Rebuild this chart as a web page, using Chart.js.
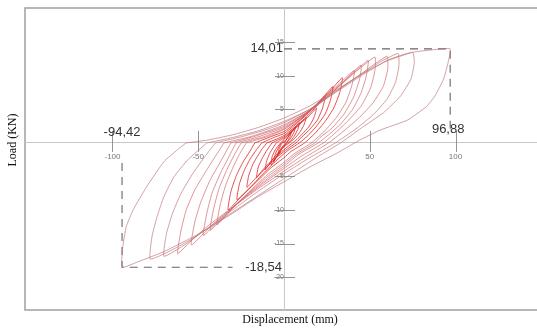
<!DOCTYPE html>
<html><head><meta charset="utf-8">
<script src="https://cdn.jsdelivr.net/npm/chart.js@4/dist/chart.umd.min.js"></script>
<style>html,body{margin:0;padding:0;background:#fff}#wrap{width:537px;height:329px;position:relative}</style>
</head><body><div id="wrap"><canvas id="c" width="537" height="329"></canvas></div>
<script>
// ---- data (displacement mm, load kN) ----
const xTicks = [-100, -50, 50, 100];
const yTicks = [15, 10, 5, -5, -10, -15, -20];
const peakPos = [96.88, 14.01];
const peakNeg = [-94.42, -18.54];
const cycleS1 = [[0,0],[2,0.7],[4.5,1.7],[3.5,0.9],[1.5,0],[-1,-0.7],[-3.5,-1.9],[-3,-1],[-1.5,-0.2],[0,0.2]];
const cycle0 = [[0,0],[3,1.1],[7,2.5],[5.5,1.4],[3,0.4],[1,0],[-2,-0.9],[-6,-2.8],[-5,-1.6],[-3,-0.6],[-1.5,0],[0,0.3]];
const cycleS2 = [[-2,0],[0,0.5],[3,1.3],[6,2.2],[9,3],[8,2],[6,1],[3.5,0.2],[2,0],[-1,-0.8],[-4,-2],[-7.5,-3.3],[-7,-2.1],[-5,-1],[-2,0]];
const cycle1 = [[-4.5,0],[-2,0.4],[0,0.7],[4,1.5],[8,2.5],[13,3.8],[11.5,2.6],[9,1.5],[6,0.6],[3,0],[0,-0.6],[-4,-1.6],[-8,-2.9],[-11,-4],[-10,-2.6],[-8,-1.4],[-6,-0.6],[-4.5,0]];
const cycle2 = [[-7,0],[-3,0.5],[0,0.9],[5,1.9],[10,3],[15,4.1],[19,5.2],[17.5,3.8],[14.5,2.4],[10.5,1.3],[7.5,0.5],[5,0],[1,-0.8],[-4,-1.9],[-9,-3.1],[-13,-4.2],[-16,-5.2],[-15,-3.6],[-12.5,-2.2],[-10,-1.1],[-7,0]];
const cycle3 = [[-10,0],[-4,0.6],[0,1.1],[6,2.3],[12,3.6],[18,5.2],[24,6.9],[22.5,5.2],[19.5,3.4],[15,2],[10.5,0.9],[7,0],[2,-0.9],[-4,-2.1],[-10,-3.6],[-16,-5.1],[-21.6,-6.6],[-20.5,-4.8],[-18,-3.1],[-15,-1.8],[-12.5,-0.8],[-10,0]];
const cycle4 = [[-13,0],[-6,0.8],[0,1.4],[7,2.8],[14,4.4],[21,6.3],[28.6,8.4],[27,6.3],[24,4.3],[19,2.5],[14,1.1],[9,0],[3,-1],[0,-1.6],[-6,-3],[-13,-4.8],[-20,-6.7],[-27.4,-8.5],[-26,-6.1],[-23,-4],[-19.5,-2.3],[-16,-1],[-13,0]];
const cycle5 = [[-17,0],[-8,0.9],[0,1.7],[8,3.2],[17,5.2],[26,7.5],[34,9.7],[32.5,7.5],[29,5.2],[24,3.2],[18,1.4],[12,0],[4,-1.3],[0,-2.2],[-8,-3.8],[-16,-5.8],[-25,-8],[-32.6,-10],[-31,-7.3],[-28,-5],[-24,-2.9],[-20,-1.3],[-17,0]];
const cycle6 = [[-22,0],[-10,0.9],[0,2],[10,3.8],[20,6],[30,8.3],[41,10.8],[39.5,8.5],[36,6],[30,3.6],[23,1.6],[16,0],[6,-1.6],[0,-2.9],[-10,-4.8],[-20,-7.2],[-30,-9.7],[-39,-12.2],[-37,-9],[-34,-6.3],[-30,-3.8],[-26,-1.7],[-22,0]];
const cycle6b = [[-25,0],[-12,0.9],[0,2.1],[11,4],[22,6.4],[34,9],[45,11.6],[44,9.4],[40.5,6.8],[35,4.3],[28,2.2],[21,0.8],[18,0],[7,-1.7],[0,-3.2],[-11,-5.3],[-22,-7.8],[-33,-10.5],[-43,-13],[-41,-9.8],[-38,-6.9],[-33.5,-4.1],[-29,-1.8],[-25,0]];
const cycle7 = [[-28,0],[-15,0.9],[0,2.3],[12,4.2],[25,6.8],[37,9.6],[49,12.3],[48,10],[45,7.5],[40,5],[33,2.8],[26,1.2],[20,0],[8,-1.8],[0,-3.5],[-12,-5.8],[-25,-8.5],[-37,-11.3],[-47,-13.8],[-45,-10.5],[-42,-7.5],[-37,-4.5],[-32,-2],[-28,0]];
const cycle7b = [[-31,0],[-18,0.9],[-5,2],[0,2.5],[13,4.5],[27,7.3],[40,10.2],[53,12.8],[53,10.8],[50.5,8.2],[45,5.5],[37,3.2],[29,1.3],[23,0],[10,-2],[0,-3.8],[-13,-6.2],[-27,-9],[-41,-12],[-54,-15.2],[-52,-11.8],[-48.5,-8.8],[-43,-5.5],[-37,-2.8],[-31,0]];
const cycle8 = [[-35,0],[-20,0.9],[-8,1.9],[0,2.7],[15,4.8],[30,7.6],[45,10.3],[60,12.9],[60.5,11],[58,8.5],[52,6],[44,3.8],[35,1.8],[26,0],[12,-2.2],[0,-4.2],[-15,-6.8],[-30,-9.6],[-45,-12.5],[-55,-14.8],[-62,-16.5],[-60,-13],[-57,-10],[-52,-7],[-45,-4],[-40,-2],[-35,0]];
const cycle8b = [[-40,0],[-25,0.9],[-10,2],[0,3],[15,5],[30,7.7],[45,10.2],[57,12.2],[66.5,13.3],[67,11.5],[65,9],[60,6.5],[52,4.2],[42,2.1],[30,0],[15,-2.2],[0,-4.6],[-15,-7.2],[-30,-10],[-45,-12.8],[-58,-15.2],[-70,-16.9],[-68.5,-13.5],[-65,-10.5],[-60,-7.5],[-53,-4.5],[-46,-2],[-40,0]];
const cycle9 = [[-45,0],[-30,0.8],[-15,1.8],[0,3.2],[15,5],[30,7.5],[45,10],[60,12.3],[75,13.5],[76,12],[74,9.5],[68,7],[58,4.5],[45,2.2],[33,0],[20,-2],[5,-4.5],[-10,-7],[-25,-9.5],[-40,-12],[-55,-14.5],[-68,-16.3],[-78,-17.3],[-77,-14],[-74,-11],[-70,-8],[-64,-5],[-56,-2.5],[-45,0]];
const cycle10 = [[-57,0],[-45,0.4],[-30,1.2],[-15,2.3],[0,3.7],[15,5.5],[30,7.8],[45,10.2],[60,12.2],[75,13.5],[88,13.9],[96.88,14.01],[95.5,11.8],[93,9.5],[88,7],[83,5.4],[72,3.4],[56,1.9],[44,0.4],[31,-1.5],[15,-3.6],[0,-5.8],[-15,-8],[-30,-10.5],[-50,-13.6],[-70,-16.2],[-85,-17.7],[-94.42,-18.54],[-94,-15.5],[-92,-12.5],[-88,-10],[-80,-6.5],[-70,-2.8],[-62,-1],[-57,0]];
const boxTop = [[0,14.01],[96.88,14.01],[96.88,2]];
const boxBottom = [[-94.42,-3],[-94.42,-18.54],[-30,-18.54]];

const cycles = [cycle10,cycle9,cycle8b,cycle8,cycle7b,cycle7,cycle6b,cycle6,cycle5,cycle4,cycle3,cycle2,cycle1,cycleS2,cycle0,cycleS1];
const toXY = a => a.map(p => ({x:p[0], y:p[1]}));
const datasets = cycles.map((c,i) => ({
  data: toXY(c), showLine:true, pointRadius:0, fill:false, tension:0.15,
  borderWidth: i < 8 ? 0.8 : 1.0,
  borderColor: i < 3 ? 'rgba(190,115,120,0.85)' : (i < 8 ? 'rgba(205,90,95,0.8)' : 'rgba(225,35,35,0.8)')
}));
[boxTop, boxBottom].forEach(b => datasets.push({
  data: toXY(b), showLine:true, pointRadius:0, fill:false, tension:0,
  borderWidth:1.1, borderColor:'#666', borderDash:[8,6]
}));

const fmt = v => v.toFixed(2).replace('.', ',');
const zeroFit = s => { s.paddingTop = 0; s.paddingBottom = 0; s.paddingLeft = 0; s.paddingRight = 0; };
const extras = {
  id:'extras',
  beforeDraw(chart){
    const {ctx, chartArea:a} = chart;
    ctx.save();
    ctx.strokeStyle = '#a0a0a0'; ctx.lineWidth = 1.5;
    ctx.beginPath();
    ctx.moveTo(a.right+2, a.top); ctx.lineTo(a.left, a.top); ctx.lineTo(a.left, a.bottom); ctx.lineTo(a.right+2, a.bottom);
    ctx.stroke();
    ctx.restore();
  },
  afterDraw(chart){
    const {ctx, chartArea:a} = chart;
    const xs = chart.scales.x, ys = chart.scales.y;
    const x0 = xs.getPixelForValue(0), y0 = ys.getPixelForValue(0);
    ctx.save();
    ctx.strokeStyle = '#888'; ctx.lineWidth = 0.9;
    xTicks.forEach(v => { const px = Math.round(xs.getPixelForValue(v))+0.5; ctx.beginPath(); ctx.moveTo(px, y0-12); ctx.lineTo(px, y0+9); ctx.stroke(); });
    yTicks.forEach(v => { const py = Math.round(ys.getPixelForValue(v))+0.5; ctx.beginPath(); ctx.moveTo(x0-9, py); ctx.lineTo(x0+11, py); ctx.stroke(); });
    // value labels
    ctx.fillStyle = '#333';
    ctx.font = '13px "Liberation Sans", Arial, sans-serif';
    ctx.textBaseline = 'middle';
    ctx.textAlign = 'right';
    ctx.fillText(fmt(peakPos[1]), x0 - 1, ys.getPixelForValue(peakPos[1]));
    ctx.fillText(fmt(peakNeg[1]), x0 - 2, ys.getPixelForValue(peakNeg[1]));
    ctx.textAlign = 'center';
    ctx.fillText(fmt(peakNeg[0]), xs.getPixelForValue(peakNeg[0]), y0 - 10);
    ctx.fillText(fmt(peakPos[0]), xs.getPixelForValue(peakPos[0]) - 2, y0 - 13);
    // axis titles
    ctx.fillStyle = '#111';
    ctx.font = '12px "Liberation Serif", "Times New Roman", serif';
    ctx.textAlign = 'center';
    ctx.fillText('Displacement (mm)', 290, 320);
    ctx.translate(13, 140); ctx.rotate(-Math.PI/2);
    ctx.fillText('Load (KN)', 0, 0);
    ctx.restore();
  }
};

new Chart(document.getElementById('c'), {
  type:'scatter',
  data:{datasets},
  plugins:[extras],
  options:{
    responsive:false, animation:false, devicePixelRatio:1,
    layout:{padding:{left:25, top:8, right:0, bottom:19}},
    plugins:{legend:{display:false}, tooltip:{enabled:false}},
    scales:{
      x:{type:'linear', min:-151, max:147.5, position:{y:0},
         afterBuildTicks: s => { s.ticks = xTicks.map(v => ({value:v})); },
         afterFit: zeroFit,
         grid:{display:false, drawTicks:false},
         border:{display:true, color:'#c8c8c8', width:1},
         ticks:{padding:9, color:'#777', font:{size:8, family:'"Liberation Sans", Arial'}, maxRotation:0, autoSkip:false}},
      y:{type:'linear', min:-24.9, max:20.1, position:{x:0},
         afterBuildTicks: s => { s.ticks = yTicks.map(v => ({value:v})); },
         afterFit: zeroFit,
         grid:{display:false, drawTicks:false},
         border:{display:true, color:'#c8c8c8', width:1},
         ticks:{padding:11, color:'#777', font:{size:7, family:'"Liberation Sans", Arial'}, autoSkip:false}}
    }
  }
});
</script></body></html>
